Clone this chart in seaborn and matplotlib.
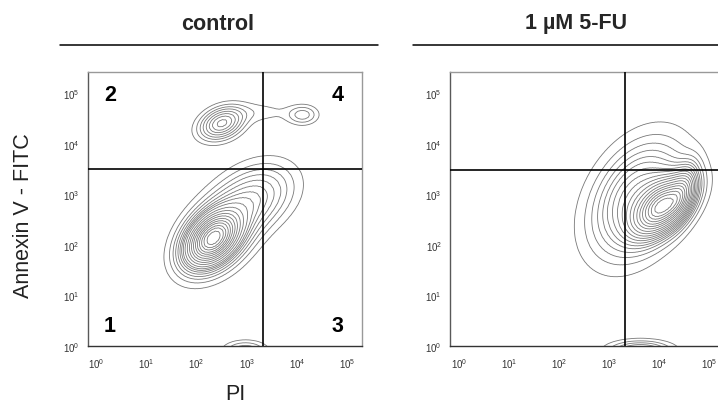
import numpy as np
import pandas as pd
import matplotlib
matplotlib.use("Agg")
import matplotlib.pyplot as plt
import seaborn as sns
from matplotlib.transforms import ScaledTranslation
from matplotlib.lines import Line2D

# ---------------- data (log10 fluorescence units) ----------------
panel_titles = ["control", "1 µM 5-FU"]
x_label = "PI"
y_label = "Annexin V - FITC"
decades = [0, 1, 2, 3, 4, 5]
decade_labels = [r"$\mathregular{10^{0}}$", r"$\mathregular{10^{1}}$", r"$\mathregular{10^{2}}$",
                 r"$\mathregular{10^{3}}$", r"$\mathregular{10^{4}}$", r"$\mathregular{10^{5}}$"]
quadrant_names = ["1", "2", "3", "4"]

# quadrant gates (log10)
gate_pi = [3.51, 3.49]
gate_annexin = [3.50, 3.47]

# cell populations (log10 PI, log10 Annexin V)
ctrl_pop_pi = [2.50, 2.60, 3.35, 2.68, 4.30, 3.45, 3.15]
ctrl_pop_ann = [2.12, 2.20, 2.95, 4.40, 4.57, 4.62, -0.10]
ctrl_pop_pi_sd = [0.30, 0.47, 0.50, 0.28, 0.20, 0.45, 0.28]
ctrl_pop_ann_sd = [0.30, 0.47, 0.42, 0.20, 0.12, 0.14, 0.12]
ctrl_pop_corr = [0.40, 0.40, 0.30, 0.30, 0.00, 0.00, 0.00]
ctrl_pop_frac = [0.40, 0.30, 0.17, 0.070, 0.012, 0.012, 0.020]

fu_pop_pi = [4.26, 3.75, 4.65, 3.80]
fu_pop_ann = [2.76, 2.90, 3.05, -0.10]
fu_pop_pi_sd = [0.35, 0.58, 0.18, 0.40]
fu_pop_ann_sd = [0.35, 0.70, 0.35, 0.12]
fu_pop_corr = [0.50, 0.35, 0.50, 0.00]
fu_pop_frac = [0.37, 0.49, 0.05, 0.04]

panels = [
    (ctrl_pop_pi, ctrl_pop_ann, ctrl_pop_pi_sd, ctrl_pop_ann_sd, ctrl_pop_corr, ctrl_pop_frac),
    (fu_pop_pi, fu_pop_ann, fu_pop_pi_sd, fu_pop_ann_sd, fu_pop_corr, fu_pop_frac),
]


def population_table(pi, ann, spi, sann, corr, frac):
    gx = np.arange(-0.8, 6.2, 0.05)
    X, Y = np.meshgrid(gx, gx)
    dens = np.zeros_like(X)
    for cx, cy, sx, sy, r, w in zip(pi, ann, spi, sann, corr, frac):
        dx = (X - cx) / sx
        dy = (Y - cy) / sy
        q = (dx ** 2 - 2 * r * dx * dy + dy ** 2) / (1 - r ** 2)
        dens += w * np.exp(-q / 2) / (2 * np.pi * sx * sy * np.sqrt(1 - r ** 2))
    keep = dens > dens.max() * 2e-4
    return pd.DataFrame({"pi": X[keep], "annexin": Y[keep], "w": dens[keep]})


# ---------------- figure ----------------
sns.set_style("white")
plt.rcParams["font.family"] = ["Liberation Sans", "DejaVu Sans"]

W, H = 718, 406
fig = plt.figure(figsize=(W / 100, H / 100), dpi=100)

ax_w = 274.5 / W
ax_h = 273.7 / H
ax_bottom = (H - 346.7) / H
lefts = [87.5 / W, 450 / W]

for i, params in enumerate(panels):
    ax = fig.add_axes([lefts[i], ax_bottom, ax_w, ax_h])
    df = population_table(*params)
    sns.kdeplot(data=df, x="pi", y="annexin", weights="w", ax=ax,
                levels=20, thresh=0.05, bw_method=0.05, gridsize=160,
                clip=((-0.4, 5.7), (-0.4, 5.7)),
                color="0.47", linewidths=0.6)
    ax.set_xlim(0, 5.48)
    ax.set_ylim(0, 5.42)
    ax.set_xlabel("")
    ax.set_ylabel("")

    ax.axvline(gate_pi[i], color="black", lw=1.2, zorder=5)
    ax.axhline(gate_annexin[i], color="black", lw=1.2, zorder=5)

    minor = [d + np.log10(k) for d in range(0, 6) for k in range(2, 10)]
    ax.set_xticks(decades)
    ax.set_yticks(decades)
    ax.set_xticks([m for m in minor if m < 5.48], minor=True)
    ax.set_yticks([m for m in minor if m < 5.42], minor=True)
    ax.set_xticklabels(decade_labels)
    ax.set_yticklabels(decade_labels)
    ax.tick_params(which="major", direction="out", length=4.3, width=1.2, color="black",
                   labelsize=7, labelcolor="#333333", pad=1.5)
    ax.tick_params(which="minor", direction="out", length=2.3, width=0.7, color="black")
    ax.tick_params(axis="x", which="major", pad=3)
    offset = ScaledTranslation(9 / 100, 0, fig.dpi_scale_trans)
    for lab in ax.get_xticklabels():
        lab.set_transform(lab.get_transform() + offset)

    for side, col in (("left", "0.35"), ("bottom", "0.2"), ("top", "0.6"), ("right", "0.6")):
        ax.spines[side].set_visible(True)
        ax.spines[side].set_color(col)
        ax.spines[side].set_linewidth(1.0)

    if i == 0:
        qx = [0.45, 0.45, 5.0, 5.0]
        qy = [0.40, 4.98, 0.40, 4.98]
        for name, x, y in zip(quadrant_names, qx, qy):
            ax.text(x, y, name, fontsize=15.5, fontweight="bold", ha="center", va="center",
                    color="black", zorder=6)

# titles and lines above panels
title_x = [218 / W, 576 / W]
line_spans = [(60 / W, 378 / W), (413 / W, 1.0)]
for t, tx, (l0, l1) in zip(panel_titles, title_x, line_spans):
    fig.text(tx, 1 - 24 / H, t, fontsize=15.5, fontweight="bold", ha="center", va="center")
    fig.add_artist(Line2D([l0, l1], [1 - 46 / H, 1 - 46 / H], color="black", lw=1.1,
                          transform=fig.transFigure))

fig.text(24 / W, 1 - 216 / H, y_label, rotation=90, fontsize=15.5, ha="center", va="center",
         color="#222222")
fig.text(235 / W, 1 - 395 / H, x_label, fontsize=15.5, ha="center", va="center", color="#222222")

fig.savefig("out.png", dpi=100)
